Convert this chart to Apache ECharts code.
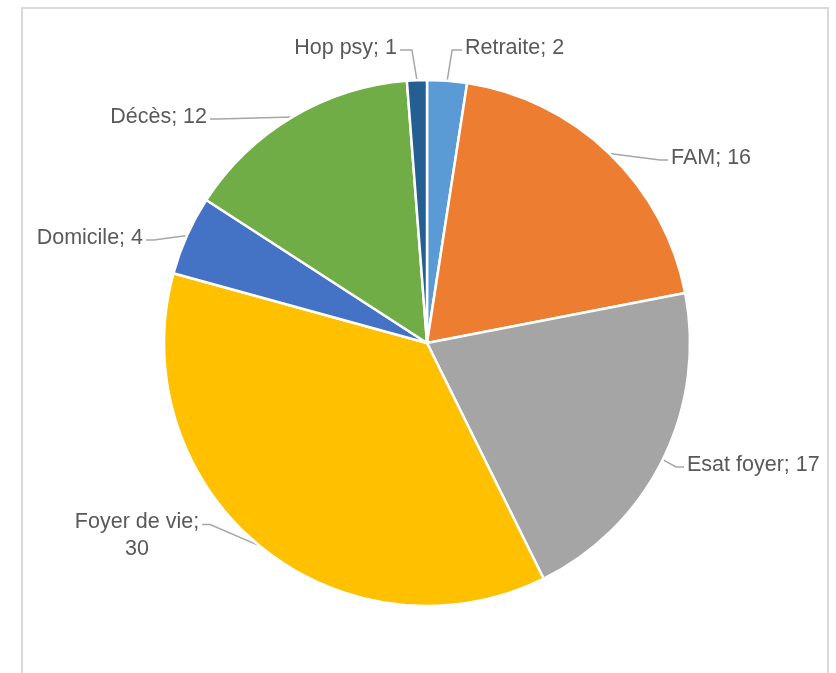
<!DOCTYPE html>
<html>
<head>
<meta charset="utf-8">
<script src="https://cdn.jsdelivr.net/npm/echarts@6/dist/echarts.min.js"></script>
<style>html,body{margin:0;padding:0;background:#fff;}#c{width:836px;height:673px;}</style>
</head>
<body>
<div id="c"></div>
<script>
const names = ['Retraite', 'FAM', 'Esat foyer', 'Foyer de vie', 'Domicile', 'Décès', 'Hop psy'];
const values = [2, 16, 17, 30, 4, 12, 1];
const colors = ['#5B9BD5', '#ED7D31', '#A5A5A5', '#FFC000', '#4472C4', '#70AD47', '#255E91'];
const wrapped = ['Foyer de vie'];

// label placement (layout only)
const labelX = [465, 671, 687, 137, 143, 207, 397];
const labelY = [48, 158, 465, 536, 238, 117, 48];
const labelAlign = ['left', 'left', 'left', 'center', 'right', 'right', 'right'];

const chart = echarts.init(document.getElementById('c'));
chart.setOption({
  backgroundColor: '#ffffff',
  animation: false,
  graphic: [{
    type: 'rect', shape: { x: 22, y: 8, width: 806, height: 690 },
    style: { fill: 'none', stroke: '#d9d9d9', lineWidth: 2 }, silent: true, z: -1
  }],
  series: [{
    type: 'pie',
    center: [427, 343],
    radius: 263,
    startAngle: 90,
    clockwise: true,
    avoidLabelOverlap: false,
    itemStyle: { borderColor: '#ffffff', borderWidth: 2.5 },
    label: {
      show: true,
      position: 'outside',
      color: '#595959',
      fontFamily: '"Liberation Sans Narrow", sans-serif',
      fontSize: 21.5,
      lineHeight: 27,
      formatter: p => p.name + ';' + (wrapped.includes(p.name) ? '\n' : ' ') + p.value
    },
    labelLine: { show: true, length: 15, length2: 15, lineStyle: { color: '#a6a6a6', width: 1.5 } },
    labelLayout: function (p) {
      const i = p.dataIndex;
      const w = p.labelRect.width, h = p.labelRect.height;
      const ax = labelX[i], ay = labelY[i], al = labelAlign[i];
      let sx, sy = ay + 2, dir;
      if (al === 'left') { sx = ax - 3; dir = -1; }
      else if (al === 'right') { sx = ax + 3; dir = 1; }
      else { sx = ax + w / 2 + 3; sy = ay - h / 4 + 2; dir = 1; }
      const p0 = p.labelLinePoints ? p.labelLinePoints[0] : [sx, sy];
      let p1 = [sx + dir * 8, sy];
      if (Math.abs(p0[1] - sy) > Math.abs(p0[0] - sx)) {
        p1 = [p0[0] - dir * 5, sy];
      }
      return {
        x: ax, y: ay, align: al, verticalAlign: 'middle',
        labelLinePoints: [p0, p1, [sx, sy]]
      };
    },
    data: names.map((n, i) => ({ name: n, value: values[i], itemStyle: { color: colors[i] } }))
  }]
});
</script>
</body>
</html>
